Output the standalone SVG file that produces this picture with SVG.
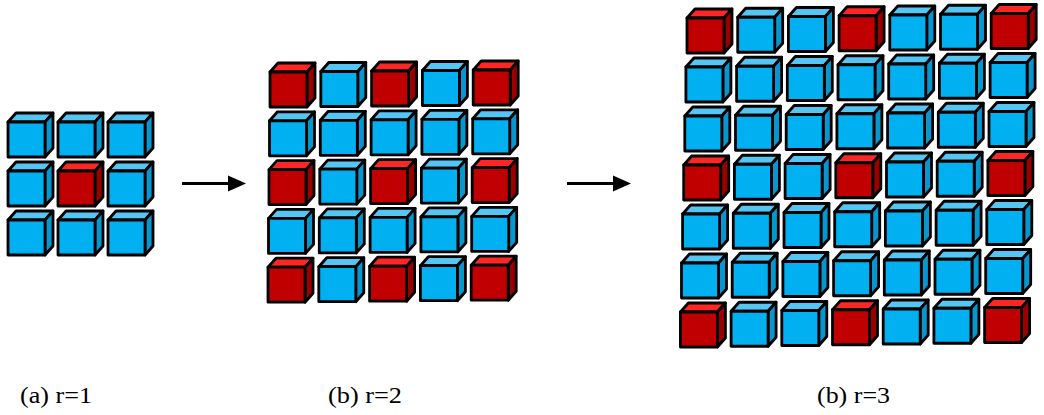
<svg xmlns="http://www.w3.org/2000/svg" xmlns:xlink="http://www.w3.org/1999/xlink" width="1044" height="415" viewBox="0 0 1044 415">
<style>
.edge{stroke:#000;stroke-width:2.8;stroke-linejoin:round}
.bf{fill:#00B0F0}.bt{fill:#55C6F3}.bs{fill:#0896CF}
.rf{fill:#C00000}.rt{fill:#FF2626}.rs{fill:#9A0000}
.lbl{font-family:"Liberation Serif","Times New Roman",serif;font-size:24px;fill:#000}
.arr{stroke:#000;stroke-width:3}
</style>
<defs>
<g id="blue">
<polygon class="edge bt" points="0,0 8,-9 45,-9 37,0"/>
<polygon class="edge bs" points="37,0 45,-9 45,26 37,35"/>
<rect class="edge bf" x="0" y="0" width="37" height="35"/>
</g>
<g id="red">
<polygon class="edge rt" points="0,0 8,-9 45,-9 37,0"/>
<polygon class="edge rs" points="37,0 45,-9 45,26 37,35"/>
<rect class="edge rf" x="0" y="0" width="37" height="35"/>
</g>
</defs>
<rect width="1044" height="415" fill="#fff"/>

<g id="panel-a">
<g id="a-r0c0" transform="translate(8 122)"><use xlink:href="#blue"/></g>
<g id="a-r0c1" transform="translate(58 122)"><use xlink:href="#blue"/></g>
<g id="a-r0c2" transform="translate(108 122)"><use xlink:href="#blue"/></g>
<g id="a-r1c0" transform="translate(8 171)"><use xlink:href="#blue"/></g>
<g id="a-r1c1" transform="translate(58 171)"><use xlink:href="#red"/></g>
<g id="a-r1c2" transform="translate(108 171)"><use xlink:href="#blue"/></g>
<g id="a-r2c0" transform="translate(8 220)"><use xlink:href="#blue"/></g>
<g id="a-r2c1" transform="translate(58 220)"><use xlink:href="#blue"/></g>
<g id="a-r2c2" transform="translate(108 220)"><use xlink:href="#blue"/></g>
</g>

<g id="panel-b">
<g id="b-r0c0" transform="translate(270 72)"><use xlink:href="#red"/></g>
<g id="b-r0c1" transform="translate(320.8 71.5)"><use xlink:href="#blue"/></g>
<g id="b-r0c2" transform="translate(371.6 71)"><use xlink:href="#red"/></g>
<g id="b-r0c3" transform="translate(422.4 70.5)"><use xlink:href="#blue"/></g>
<g id="b-r0c4" transform="translate(473.2 70)"><use xlink:href="#red"/></g>
<g id="b-r1c0" transform="translate(269.5 120.8)"><use xlink:href="#blue"/></g>
<g id="b-r1c1" transform="translate(320.3 120.3)"><use xlink:href="#blue"/></g>
<g id="b-r1c2" transform="translate(371.1 119.8)"><use xlink:href="#blue"/></g>
<g id="b-r1c3" transform="translate(421.9 119.3)"><use xlink:href="#blue"/></g>
<g id="b-r1c4" transform="translate(472.7 118.8)"><use xlink:href="#blue"/></g>
<g id="b-r2c0" transform="translate(269 169.6)"><use xlink:href="#red"/></g>
<g id="b-r2c1" transform="translate(319.8 169.1)"><use xlink:href="#blue"/></g>
<g id="b-r2c2" transform="translate(370.6 168.6)"><use xlink:href="#red"/></g>
<g id="b-r2c3" transform="translate(421.4 168.1)"><use xlink:href="#blue"/></g>
<g id="b-r2c4" transform="translate(472.2 167.6)"><use xlink:href="#red"/></g>
<g id="b-r3c0" transform="translate(268.5 218.4)"><use xlink:href="#blue"/></g>
<g id="b-r3c1" transform="translate(319.3 217.9)"><use xlink:href="#blue"/></g>
<g id="b-r3c2" transform="translate(370.1 217.4)"><use xlink:href="#blue"/></g>
<g id="b-r3c3" transform="translate(420.9 216.9)"><use xlink:href="#blue"/></g>
<g id="b-r3c4" transform="translate(471.7 216.4)"><use xlink:href="#blue"/></g>
<g id="b-r4c0" transform="translate(268 267.2)"><use xlink:href="#red"/></g>
<g id="b-r4c1" transform="translate(318.8 266.7)"><use xlink:href="#blue"/></g>
<g id="b-r4c2" transform="translate(369.6 266.2)"><use xlink:href="#red"/></g>
<g id="b-r4c3" transform="translate(420.4 265.7)"><use xlink:href="#blue"/></g>
<g id="b-r4c4" transform="translate(471.2 265.2)"><use xlink:href="#red"/></g>
</g>

<g id="panel-c">
<g id="c-r0c0" transform="translate(687 18)"><use xlink:href="#red"/></g>
<g id="c-r0c1" transform="translate(737.7 17.25)"><use xlink:href="#blue"/></g>
<g id="c-r0c2" transform="translate(788.4 16.5)"><use xlink:href="#blue"/></g>
<g id="c-r0c3" transform="translate(839.1 15.75)"><use xlink:href="#red"/></g>
<g id="c-r0c4" transform="translate(889.8 15)"><use xlink:href="#blue"/></g>
<g id="c-r0c5" transform="translate(940.5 14.25)"><use xlink:href="#blue"/></g>
<g id="c-r0c6" transform="translate(991.2 13.5)"><use xlink:href="#red"/></g>
<g id="c-r1c0" transform="translate(685.9 67)"><use xlink:href="#blue"/></g>
<g id="c-r1c1" transform="translate(736.6 66.25)"><use xlink:href="#blue"/></g>
<g id="c-r1c2" transform="translate(787.3 65.5)"><use xlink:href="#blue"/></g>
<g id="c-r1c3" transform="translate(838 64.75)"><use xlink:href="#blue"/></g>
<g id="c-r1c4" transform="translate(888.7 64)"><use xlink:href="#blue"/></g>
<g id="c-r1c5" transform="translate(939.4 63.25)"><use xlink:href="#blue"/></g>
<g id="c-r1c6" transform="translate(990.1 62.5)"><use xlink:href="#blue"/></g>
<g id="c-r2c0" transform="translate(684.8 116)"><use xlink:href="#blue"/></g>
<g id="c-r2c1" transform="translate(735.5 115.25)"><use xlink:href="#blue"/></g>
<g id="c-r2c2" transform="translate(786.2 114.5)"><use xlink:href="#blue"/></g>
<g id="c-r2c3" transform="translate(836.9 113.75)"><use xlink:href="#blue"/></g>
<g id="c-r2c4" transform="translate(887.6 113)"><use xlink:href="#blue"/></g>
<g id="c-r2c5" transform="translate(938.3 112.25)"><use xlink:href="#blue"/></g>
<g id="c-r2c6" transform="translate(989 111.5)"><use xlink:href="#blue"/></g>
<g id="c-r3c0" transform="translate(683.7 165)"><use xlink:href="#red"/></g>
<g id="c-r3c1" transform="translate(734.4 164.25)"><use xlink:href="#blue"/></g>
<g id="c-r3c2" transform="translate(785.1 163.5)"><use xlink:href="#blue"/></g>
<g id="c-r3c3" transform="translate(835.8 162.75)"><use xlink:href="#red"/></g>
<g id="c-r3c4" transform="translate(886.5 162)"><use xlink:href="#blue"/></g>
<g id="c-r3c5" transform="translate(937.2 161.25)"><use xlink:href="#blue"/></g>
<g id="c-r3c6" transform="translate(987.9 160.5)"><use xlink:href="#red"/></g>
<g id="c-r4c0" transform="translate(682.6 214)"><use xlink:href="#blue"/></g>
<g id="c-r4c1" transform="translate(733.3 213.25)"><use xlink:href="#blue"/></g>
<g id="c-r4c2" transform="translate(784 212.5)"><use xlink:href="#blue"/></g>
<g id="c-r4c3" transform="translate(834.7 211.75)"><use xlink:href="#blue"/></g>
<g id="c-r4c4" transform="translate(885.4 211)"><use xlink:href="#blue"/></g>
<g id="c-r4c5" transform="translate(936.1 210.25)"><use xlink:href="#blue"/></g>
<g id="c-r4c6" transform="translate(986.8 209.5)"><use xlink:href="#blue"/></g>
<g id="c-r5c0" transform="translate(681.5 263)"><use xlink:href="#blue"/></g>
<g id="c-r5c1" transform="translate(732.2 262.25)"><use xlink:href="#blue"/></g>
<g id="c-r5c2" transform="translate(782.9 261.5)"><use xlink:href="#blue"/></g>
<g id="c-r5c3" transform="translate(833.6 260.75)"><use xlink:href="#blue"/></g>
<g id="c-r5c4" transform="translate(884.3 260)"><use xlink:href="#blue"/></g>
<g id="c-r5c5" transform="translate(935 259.25)"><use xlink:href="#blue"/></g>
<g id="c-r5c6" transform="translate(985.7 258.5)"><use xlink:href="#blue"/></g>
<g id="c-r6c0" transform="translate(680.4 312)"><use xlink:href="#red"/></g>
<g id="c-r6c1" transform="translate(731.1 311.25)"><use xlink:href="#blue"/></g>
<g id="c-r6c2" transform="translate(781.8 310.5)"><use xlink:href="#blue"/></g>
<g id="c-r6c3" transform="translate(832.5 309.75)"><use xlink:href="#red"/></g>
<g id="c-r6c4" transform="translate(883.2 309)"><use xlink:href="#blue"/></g>
<g id="c-r6c5" transform="translate(933.9 308.25)"><use xlink:href="#blue"/></g>
<g id="c-r6c6" transform="translate(984.6 307.5)"><use xlink:href="#red"/></g>
</g>

<g id="connectors">
<line class="arr" x1="182" y1="183.5" x2="232" y2="183.5"/>
<polygon points="228,175.5 246,183.5 228,191.5" fill="#000"/>
<line class="arr" x1="567" y1="183.5" x2="617" y2="183.5"/>
<polygon points="613,175.5 631,183.5 613,191.5" fill="#000"/>
</g>

<g id="labels">
<text class="lbl" x="20" y="403" textLength="72" lengthAdjust="spacingAndGlyphs">(a) r=1</text>
<text class="lbl" x="328" y="403" textLength="74" lengthAdjust="spacingAndGlyphs">(b) r=2</text>
<text class="lbl" x="817" y="403" textLength="73" lengthAdjust="spacingAndGlyphs">(b) r=3</text>
</g>
</svg>
